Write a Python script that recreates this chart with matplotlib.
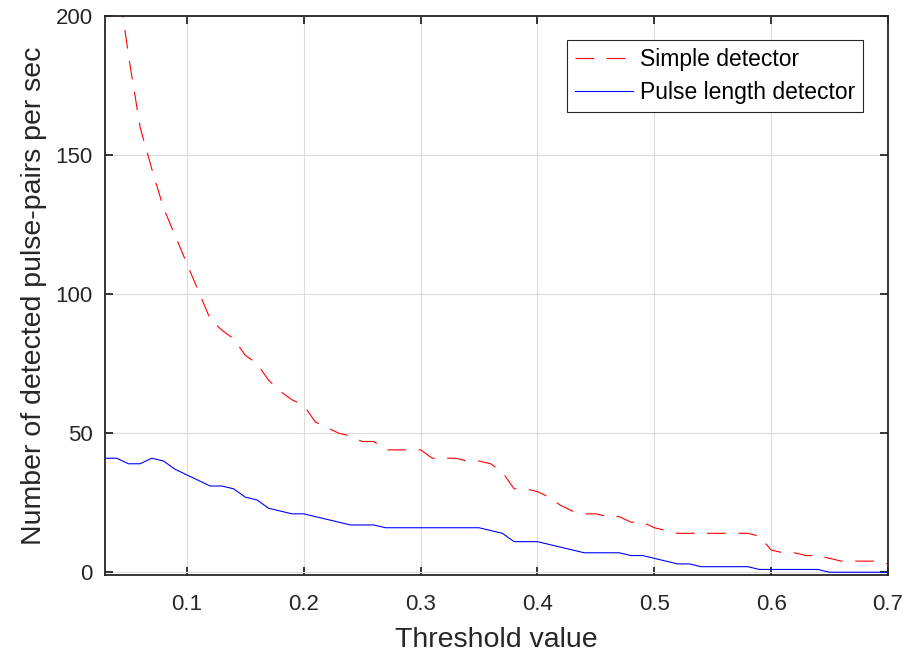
import numpy as np
import matplotlib
matplotlib.use('Agg')
import matplotlib.pyplot as plt

plt.rcParams['font.family'] = ['Liberation Sans', 'DejaVu Sans']
plt.rcParams['lines.scale_dashes'] = False

# threshold values (step 0.01)
progi = np.round(np.arange(0.03, 0.705, 0.01), 2)

prosty = [250, 216, 186, 160, 145, 131, 121, 111, 101, 91,
          87, 84, 78, 75, 69, 65, 62, 60, 54, 52,
          50, 49, 47, 47, 44, 44, 44, 44, 41, 41,
          41, 40, 40, 39, 36, 30, 30, 29, 27, 24,
          22, 21, 21, 20, 20, 18, 18, 16, 15, 14,
          14, 14, 14, 14, 14, 14, 13, 8, 7, 7,
          6, 6, 5, 4, 4, 4, 4, 3]

dlugosc = [41, 41, 39, 39, 41, 40, 37, 35, 33, 31,
           31, 30, 27, 26, 23, 22, 21, 21, 20, 19,
           18, 17, 17, 17, 16, 16, 16, 16, 16, 16,
           16, 16, 16, 15, 14, 11, 11, 11, 10, 9,
           8, 7, 7, 7, 7, 6, 6, 5, 4, 3,
           3, 2, 2, 2, 2, 2, 1, 1, 1, 1,
           1, 1, 0, 0, 0, 0, 0, 0]

fig = plt.figure(figsize=(9.04, 6.55), dpi=100)
ax = fig.add_axes([0.1162, 0.1221, 0.8661, 0.8535])

ax.plot(progi, prosty, color='#ff0000', linewidth=0.8, dashes=(13.5, 9),
        label='Simple detector')
ax.plot(progi, dlugosc, color='#0000ff', linewidth=0.8,
        label='Pulse length detector')

ax.set_xlim(0.03, 0.7)
ax.set_ylim(-1, 200)
ax.set_xticks([0.1, 0.2, 0.3, 0.4, 0.5, 0.6, 0.7])
ax.set_yticks([0, 50, 100, 150, 200])
ax.grid(True, color='#dcdcdc', linewidth=0.8)
ax.set_axisbelow(True)

ax.tick_params(direction='in', length=6, width=1.3, top=True, right=True,
               labelsize=16, colors='#262626')
ax.tick_params(axis='x', pad=14)
ax.tick_params(axis='y', pad=9)
for s in ax.spines.values():
    s.set_color('#262626')
    s.set_linewidth(1.3)

ax.set_xlabel('Threshold value', fontsize=20.5, color='#262626', labelpad=8)
ax.set_ylabel('Number of detected pulse-pairs per sec', fontsize=20.5,
              color='#262626', labelpad=6)

leg = ax.legend(loc='upper right', bbox_to_anchor=(0.9685, 0.9575),
                fontsize=16.5, fancybox=False, framealpha=1,
                edgecolor='#262626', handlelength=2.55, handletextpad=0.3,
                borderpad=0.35, labelspacing=0.45, borderaxespad=0)
leg.get_frame().set_linewidth(0.8)

fig.savefig('out.png', dpi=100)
